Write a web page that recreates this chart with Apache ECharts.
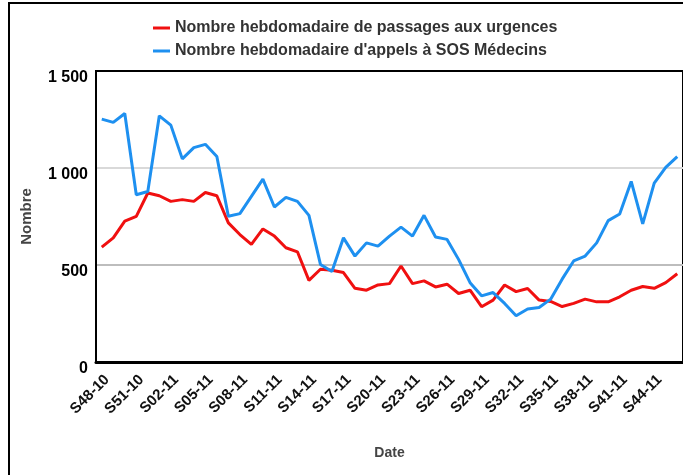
<!DOCTYPE html>
<html>
<head>
<meta charset="utf-8">
<script src="https://cdn.jsdelivr.net/npm/echarts@6/dist/echarts.min.js"></script>
<style>
  html, body { margin: 0; padding: 0; background: #fff; }
  #chart { width: 683px; height: 475px; }
</style>
</head>
<body>
<div id="chart"></div>
<script>
// semaines S48-10 .. S46-11
var weeks = ['S48-10', 'S49-10', 'S50-10', 'S51-10', 'S52-10',
    'S01-11', 'S02-11', 'S03-11', 'S04-11', 'S05-11', 'S06-11', 'S07-11', 'S08-11', 'S09-11', 'S10-11',
    'S11-11', 'S12-11', 'S13-11', 'S14-11', 'S15-11', 'S16-11', 'S17-11', 'S18-11', 'S19-11', 'S20-11',
    'S21-11', 'S22-11', 'S23-11', 'S24-11', 'S25-11', 'S26-11', 'S27-11', 'S28-11', 'S29-11', 'S30-11',
    'S31-11', 'S32-11', 'S33-11', 'S34-11', 'S35-11', 'S36-11', 'S37-11', 'S38-11', 'S39-11', 'S40-11',
    'S41-11', 'S42-11', 'S43-11', 'S44-11', 'S45-11', 'S46-11'];

var urgences = [592, 640, 726, 751, 871, 857, 828, 837, 828, 874, 857, 717, 657, 606, 686,
    649, 589, 568, 421, 478, 473, 461, 380, 370, 397, 404, 495, 404, 418, 387, 401,
    353, 370, 285, 319, 397, 363, 379, 319, 312, 286, 302, 324, 310, 310, 336, 370,
    389, 380, 409, 455];

var sosMedecins = [1252, 1235, 1281, 862, 879, 1269, 1221, 1047, 1105, 1122, 1059, 751, 765, 854, 943,
    799, 849, 828, 756, 503, 466, 640, 546, 614, 597, 649, 695, 649, 756, 644, 632,
    529, 409, 341, 358, 302, 238, 273, 281, 324, 427, 521, 546, 614, 729, 763, 931,
    712, 922, 1003, 1059];

var yTicks = [0, 500, 1000, 1500];

function formatThousands(v) {
    return String(v).replace(/\B(?=(\d{3})+(?!\d))/g, ' ');
}

var chart = echarts.init(document.getElementById('chart'));

var option = {
    animation: false,
    textStyle: { fontFamily: 'Liberation Sans, Arial, sans-serif' },
    graphic: [{
        type: 'polyline',
        shape: { points: [[9, 480], [9, 3], [690, 3]] },
        style: { stroke: '#000', lineWidth: 2, fill: null }
    }],
    legend: {
        orient: 'vertical',
        left: 153,
        top: 19,
        padding: 0,
        icon: 'rect',
        itemWidth: 17,
        itemHeight: 3,
        itemGap: 5,
        textStyle: { fontSize: 16, fontWeight: 'bold', color: '#333', lineHeight: 18 },
        data: ['Nombre hebdomadaire de passages aux urgences', "Nombre hebdomadaire d'appels à SOS Médecins"]
    },
    grid: {
        left: 96,
        top: 71,
        width: 588,
        bottom: 113,
        show: true,
        borderColor: '#000',
        borderWidth: 2,
        backgroundColor: 'transparent'
    },
    xAxis: [{
        type: 'category',
        data: weeks,
        boundaryGap: true,
        name: 'Date',
        nameLocation: 'middle',
        nameGap: 84,
        nameTextStyle: { fontSize: 14, fontWeight: 'bold', color: '#444' },
        axisLine: { lineStyle: { color: '#000', width: 3 } },
        axisTick: { interval: 2, alignWithLabel: true, length: 4, lineStyle: { color: '#000', width: 1.5 } },
        axisLabel: {
            interval: 2,
            rotate: 45,
            margin: 10,
            fontSize: 15,
            fontWeight: 'bold',
            verticalAlign: 'top',
            color: '#111'
        }
    }, {
        type: 'category',
        data: weeks,
        boundaryGap: true,
        position: 'bottom',
        axisLine: { show: false },
        axisTick: { interval: 2, alignWithLabel: true, inside: true, length: 4, lineStyle: { color: '#000', width: 1.5 } },
        axisLabel: { show: false }
    }],
    yAxis: {
        type: 'value',
        min: yTicks[0],
        max: yTicks[yTicks.length - 1],
        interval: 500,
        name: 'Nombre',
        nameLocation: 'middle',
        nameGap: 62,
        nameTextStyle: { fontSize: 15, fontWeight: 'bold', color: '#444' },
        axisLine: { show: true, lineStyle: { color: '#000', width: 2 } },
        axisTick: { show: false },
        axisLabel: {
            fontSize: 16,
            fontWeight: 'bold',
            color: '#000',
            margin: 8,
            verticalAlign: 'top',
            lineHeight: 14,
            formatter: formatThousands
        },
        splitLine: { lineStyle: { color: ['#000', '#bdbdbd', '#d9d9d9', '#000'], width: 2 } }
    },
    series: [{
        name: 'Nombre hebdomadaire de passages aux urgences',
        type: 'line',
        data: urgences,
        symbol: 'none',
        color: '#f01010',
        lineStyle: { width: 3, color: '#f01010' }
    }, {
        name: "Nombre hebdomadaire d'appels à SOS Médecins",
        type: 'line',
        data: sosMedecins,
        symbol: 'none',
        color: '#1e90f0',
        lineStyle: { width: 3, color: '#1e90f0' }
    }]
};

chart.setOption(option);
</script>
</body>
</html>
